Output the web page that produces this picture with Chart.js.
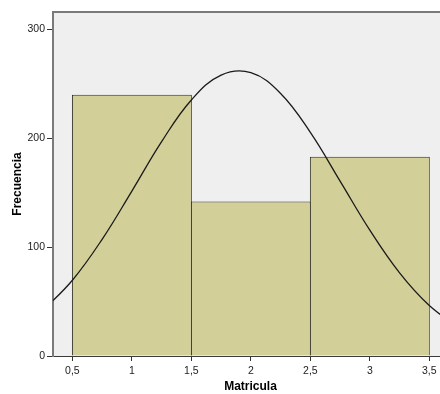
<!DOCTYPE html>
<html>
<head>
<meta charset="utf-8">
<script src="https://cdn.jsdelivr.net/npm/chart.js@4/dist/chart.umd.min.js"></script>
<style>
  html, body { margin: 0; padding: 0; background: #ffffff; overflow: hidden; }
  #wrap { width: 440px; height: 394px; overflow: hidden; }
  canvas { display: block; }
</style>
</head>
<body>
<div id="wrap"><canvas id="c" width="450" height="394"></canvas></div>
<script>
// Histogram of "Matricula" with its fitted normal curve
const binCenters = [1, 2, 3];
const frequencies = [240, 142, 183];
const binWidth = 1;

// Normal curve heights (frequency units) along the x range
const curveX = [0.25, 0.5, 0.75, 1.0, 1.25, 1.5, 1.75, 2.0, 2.25, 2.5, 2.75, 3.0, 3.25, 3.5, 3.75];
const curveY = [41.6, 69.6, 107.2, 151.5, 196.9, 235.2, 258.0, 260.2, 241.2, 205.4, 160.7, 115.6, 76.4, 46.4, 25.9];

const xTicks = [0.5, 1, 1.5, 2, 2.5, 3, 3.5];
const yTicks = [0, 100, 200, 300];

const FONT = "'Liberation Sans', Arial, Helvetica, sans-serif";
const tickStep = xTicks[1] - xTicks[0];

const plotFrame = {
  id: 'plotFrame',
  beforeDraw(chart) {
    const { ctx, chartArea: a } = chart;
    ctx.save();
    ctx.fillStyle = '#ffffff';
    ctx.fillRect(0, 0, chart.width, chart.height);
    ctx.fillStyle = '#efefef';
    ctx.fillRect(a.left, a.top, a.right - a.left, a.bottom - a.top);
    ctx.restore();
  },
  afterDraw(chart) {
    const { ctx, chartArea: a } = chart;
    ctx.save();
    ctx.strokeStyle = '#7a7a7a';
    ctx.lineWidth = 2;
    ctx.beginPath();
    ctx.moveTo(a.left - 1, a.top);
    ctx.lineTo(a.right, a.top);
    ctx.stroke();
    ctx.restore();
  }
};

new Chart(document.getElementById('c'), {
  type: 'bar',
  data: {
    datasets: [
      {
        type: 'line',
        data: curveX.map((x, i) => ({ x: x, y: curveY[i] })),
        borderColor: '#1a1a1a',
        borderWidth: 1.3,
        pointRadius: 0,
        tension: 0.4,
        fill: false,
        order: 0
      },
      {
        type: 'bar',
        data: binCenters.map((x, i) => ({ x: x, y: frequencies[i] })),
        backgroundColor: '#d3cf98',
        borderColor: '#2e2e24',
        borderWidth: 1,
        categoryPercentage: binWidth / tickStep,
        barPercentage: 1.008,
        grouped: false,
        order: 1
      }
    ]
  },
  options: {
    responsive: false,
    devicePixelRatio: 1,
    animation: false,
    layout: { padding: { left: 10, top: 12, right: 2, bottom: 0 } },
    plugins: { legend: { display: false }, tooltip: { enabled: false } },
    scales: {
      x: {
        type: 'linear',
        min: 0.337,
        max: 3.657,
        offset: false,
        afterBuildTicks: (s) => { s.ticks = xTicks.map(v => ({ value: v })); },
        afterFit: (s) => { s.height = 38; },
        grid: { display: true, offset: false, drawOnChartArea: false, drawTicks: true, tickLength: 5, tickColor: '#333333', tickWidth: 1 },
        border: { display: true, color: '#3a3a3a', width: 1 },
        ticks: {
          padding: 4,
          maxRotation: 0,
          autoSkip: false,
          color: '#222222',
          font: { family: FONT, size: 10.5 },
          callback: (v) => String(v).replace('.', ',')
        },
        title: {
          display: true,
          text: 'Matricula',
          color: '#000000',
          padding: 0,
          font: { family: FONT, size: 12, weight: 'bold' }
        }
      },
      y: {
        min: 0,
        max: 316,
        afterBuildTicks: (s) => { s.ticks = yTicks.map(v => ({ value: v })); },
        afterFit: (s) => { s.width = 43; },
        grid: { display: true, drawOnChartArea: false, drawTicks: true, tickLength: 6, tickColor: '#333333', tickWidth: 1 },
        border: { display: true, color: '#7a7a7a', width: 2 },
        ticks: {
          padding: 2,
          color: '#222222',
          font: { family: FONT, size: 10.5 }
        },
        title: {
          display: true,
          text: 'Frecuencia',
          color: '#000000',
          padding: 0,
          font: { family: FONT, size: 12, weight: 'bold' }
        }
      }
    }
  },
  plugins: [plotFrame]
});
</script>
</body>
</html>
